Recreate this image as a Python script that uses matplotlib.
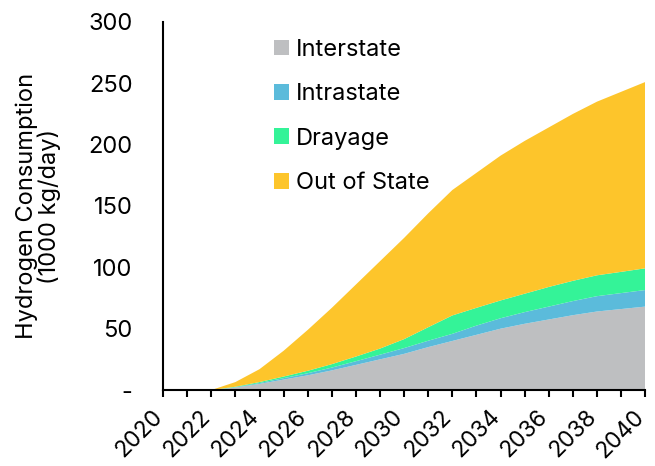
import matplotlib
matplotlib.use("Agg")
import matplotlib.pyplot as plt
import numpy as np
from matplotlib.patches import Patch
from matplotlib.ticker import MultipleLocator, FixedLocator

years = list(range(2020, 2041))
total = [0, 0, 0, 6.5, 17, 32, 49, 67, 86, 105, 124, 144, 163, 177, 191, 203, 214, 225, 235, 243, 251]
interstate = [0, 0, 0, 2, 5, 8.5, 12, 16, 20.5, 25, 29.5, 35, 40, 45, 50, 54, 57.5, 61, 64, 66, 68]
intrastate = [0, 0, 0, 0.3, 0.7, 1.2, 1.7, 2.3, 3, 3.8, 4.7, 5.2, 5.8, 7.5, 8.5, 9.5, 10.5, 11.5, 12.5, 13, 13.5]
drayage = [0, 0, 0, 0.4, 0.8, 1.3, 2, 2.8, 3.8, 5, 7.3, 11, 15, 14.5, 14.5, 15, 16, 16.5, 17, 17.3, 17.7]
out_of_state = [t - a - b - c for t, a, b, c in zip(total, interstate, intrastate, drayage)]

labels = ["Interstate", "Intrastate", "Drayage", "Out of State"]
colors = ["#BEBFC1", "#5BBBDB", "#34F398", "#FDC52B"]
xticklabels = [str(y) for y in range(2020, 2041, 2)]
yticks = [0, 50, 100, 150, 200, 250, 300]
yticklabels = ["-", "50", "100", "150", "200", "250", "300"]

plt.rcParams['font.family'] = ['Inter', 'DejaVu Sans']
FS = 17

fig = plt.figure(figsize=(6.55, 4.66), dpi=100)
ax = fig.add_axes([0.249, 0.163, 0.736, 0.79])

ax.stackplot(years, interstate, intrastate, drayage, out_of_state,
             colors=colors, linewidth=0)

ax.set_xlim(2020, 2040)
ax.set_ylim(0, 300)
ax.xaxis.set_major_locator(FixedLocator(list(range(2020, 2041, 2))))
ax.xaxis.set_minor_locator(MultipleLocator(1))
ax.set_xticklabels(xticklabels, rotation=45, ha='right', va='baseline',
                   rotation_mode='anchor', fontsize=16.5)
ax.tick_params(axis='x', which='both', length=5, width=1.5, direction='out', pad=15)
ax.set_yticks(yticks)
ax.set_yticklabels(yticklabels, fontsize=FS)
ax.tick_params(axis='y', length=0, pad=22)

for s in ['top', 'right']:
    ax.spines[s].set_visible(False)
for s in ['left', 'bottom']:
    ax.spines[s].set_linewidth(1.5)

ax.set_ylabel("Hydrogen Consumption\n(1000 kg/day)", fontsize=FS, labelpad=20, linespacing=0.95)

handles = [Patch(facecolor=c, edgecolor='none') for c in colors]
ax.legend(handles, labels, loc='upper left', bbox_to_anchor=(0.185, 1.012), frameon=False,
          fontsize=FS, handlelength=0.64, handleheight=0.64, handletextpad=0.3,
          labelspacing=0.95)

fig.savefig("out.png", dpi=100)
